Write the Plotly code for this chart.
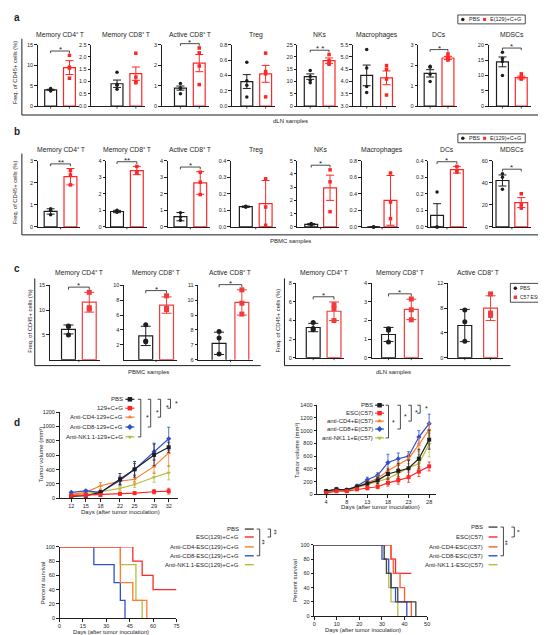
import plotly.graph_objects as go

W, H = 546, 635
FONT = "Liberation Sans, Arial, sans-serif"
BLACK = "#1e1e1e"
RED = "#ff2626"
RED_C = "#f03c3c"
ORANGE = "#ff7b2e"
ORANGE_R = "#ff5a32"
BLUE = "#2f4fd0"
OLIVE = "#b9bb3c"

# ---------------- data ----------------
cell_titles = ["Memory CD4⁺ T", "Memory CD8⁺ T", "Active CD8⁺ T",
               "Treg", "NKs", "Macrophages", "DCs", "MDSCs"]

# panel a: dLN samples, PBS vs E(129)+C+G
a_pbs_mean = [3.98, 0.91, 0.88, 0.32, 12.0, 4.25, 1.6, 14.4]
a_pbs_err = [0.12, 0.15, 0.10, 0.09, 1.1, 0.42, 0.18, 1.6]
a_pbs_pts = [[4.3, 4.0, 3.9, 3.7], [1.38, 0.89, 0.85, 0.69], [1.1, 0.9, 0.85, 0.6],
             [0.57, 0.33, 0.27, 0.12], [14.5, 12.0, 10.5, 9.5], [5.3, 4.55, 3.8, 3.55],
             [1.95, 1.9, 1.55, 1.2], [17.5, 15.5, 14.5, 10.0]]
a_trt_mean = [9.4, 1.32, 2.1, 0.42, 18.5, 4.15, 2.35, 9.3]
a_trt_err = [1.7, 0.27, 0.42, 0.11, 1.1, 0.28, 0.08, 0.45]
a_trt_pts = [[12.4, 9.5, 9.3, 6.8], [2.15, 1.18, 1.0, 0.95], [2.84, 2.6, 1.96, 1.05],
             [0.69, 0.45, 0.42, 0.12], [21.0, 18.5, 17.5, 17.0], [4.65, 4.5, 4.1, 3.45],
             [2.55, 2.4, 2.3, 2.25], [10.5, 9.5, 9.0, 8.8]]
a_yrange = [[0, 15], [0, 2.5], [0, 3], [0, 0.8], [0, 25], [3, 5.5], [0, 3], [0, 20]]
a_ticks = [[0, 5, 10, 15], [0, 0.5, 1, 1.5, 2, 2.5], [0, 1, 2, 3], [0, 0.2, 0.4, 0.6, 0.8],
           [0, 5, 10, 15, 20, 25], [3, 3.5, 4, 4.5, 5, 5.5], [0, 1, 2, 3], [0, 5, 10, 15, 20]]
a_fmt = ["d", ".1f", "d", ".1f", "d", ".1f", "d", "d"]
a_sig = ["*", "", "*", "", "* *", "", "*", "*"]

# panel b: PBMC samples
b_pbs_mean = [0.7, 0.93, 0.62, 0.122, 0.2, 0.0, 0.07, 42]
b_pbs_err = [0.12, 0.07, 0.25, 0.004, 0.05, 0.0, 0.07, 5]
b_pbs_pts = [[0.82, 0.75, 0.55], [1.0, 0.95, 0.88], [0.85, 0.6, 0.4], [0.125, 0.12, 0.12],
             [0.25, 0.2, 0.15], [0, 0, 0], [0.21, 0.0, 0.0], [48, 45, 34]]
b_trt_mean = [2.27, 3.4, 2.65, 0.14, 2.95, 0.32, 0.345, 22]
b_trt_err = [0.37, 0.25, 0.68, 0.14, 0.95, 0.3, 0.02, 4.5]
b_trt_pts = [[2.55, 2.35, 1.9], [3.65, 3.3, 3.25], [3.3, 2.7, 1.95], [0.29, 0.12, 0.01],
             [4.3, 3.4, 1.15], [0.65, 0.3, 0.1], [0.365, 0.34, 0.33], [30, 20, 17]]
b_yrange = [[0, 3], [0, 4], [0, 4], [0, 0.4], [0, 5], [0, 0.8], [0, 0.4], [0, 60]]
b_ticks = [[0, 1, 2, 3], [0, 1, 2, 3, 4], [0, 1, 2, 3, 4], [0, 0.1, 0.2, 0.3, 0.4],
           [0, 1, 2, 3, 4, 5], [0, 0.2, 0.4, 0.6, 0.8], [0, 0.1, 0.2, 0.3, 0.4], [0, 20, 40, 60]]
b_fmt = ["d", "d", "d", ".1f", "d", ".1f", ".1f", "d"]
b_sig = ["**", "**", "*", "", "*", "", "*", "*"]

# panel c: PBS vs C57 ESC (3 PBMC + 3 dLN)
c_titles = ["Memory CD4⁺ T", "Memory CD8⁺ T", "Active CD8⁺ T"] * 2
c_pbs_mean = [6.1, 3.2, 7.1, 3.25, 1.25, 5.2]
c_pbs_err = [0.9, 1.3, 0.75, 0.45, 0.38, 2.6]
c_pbs_pts = [[6.8, 6.7, 5.0], [4.7, 2.5, 2.4], [7.9, 7.46, 6.38], [3.8, 3.15, 3.0],
             [1.56, 1.48, 0.84], [7.7, 5.8, 2.67]]
c_trt_mean = [11.6, 7.35, 9.85, 5.0, 2.6, 8.0]
c_trt_err = [2.0, 1.1, 0.85, 1.0, 0.55, 2.0]
c_trt_pts = [[13.6, 10.5, 10.2], [8.6, 6.9, 6.75], [10.7, 9.8, 9.07], [5.7, 5.3, 4.0],
             [3.16, 2.58, 2.04], [10.3, 7.2, 6.83]]
c_yrange = [[0, 15], [0, 10], [6, 11], [0, 8], [0, 4], [0, 12]]
c_ticks = [[5, 10, 15], [2, 4, 6, 8, 10], [6, 7, 8, 9, 10, 11], [0, 2, 4, 6, 8],
           [0, 1, 2, 3, 4], [0, 4, 8, 12]]
c_sig = ["*", "*", "*", "*", "*", ""]

# panel d: tumor volume (129 model)
lt_days = [12, 15, 18, 22, 25, 29, 32]
lt_names = ["PBS", "129+C+G", "Anti-CD4-129+C+G", "Anti-CD8-129+C+G", "Anti-NK1.1-129+C+G"]
lt_pbs = [27, 37, 83, 266, 404, 605, 711]
lt_pbs_err = [10, 15, 30, 80, 110, 150, 70]
lt_esc = [37, 46, 46, 64, 73, 92, 100]
lt_esc_err = [15, 15, 15, 20, 20, 30, 40]
lt_cd4 = [55, 83, 175, 240, 266, 445, 633]
lt_cd4_err = [15, 20, 45, 40, 50, 100, 190]
lt_cd8 = [83, 105, 83, 248, 404, 650, 830]
lt_cd8_err = [15, 15, 20, 60, 80, 120, 160]
lt_nk = [46, 64, 92, 138, 193, 294, 358]
lt_nk_err = [10, 15, 20, 30, 40, 70, 100]

# panel d: tumor volume (C57 model)
rt_days = ["4", "6", "8", "11", "13", "16", "18", "21", "23", "26", "28"]
rt_ticks = ["4", "8", "13", "18", "23", "28"]
rt_names = ["PBS", "ESC(C57)", "anti-CD4+E(C57)", "anti-CD8+E(C57)", "anti-NK1.1+E(C57)"]
rt_pbs = [50, 80, 70, 120, 170, 220, 320, 370, 410, 560, 860]
rt_pbs_err = [20, 20, 20, 20, 40, 50, 80, 120, 130, 150, 150]
rt_esc = [20, 50, 50, 80, 100, 120, 180, 220, 270, 360, 440]
rt_esc_err = [20, 20, 20, 20, 30, 30, 50, 60, 80, 80, 70]
rt_cd4 = [40, 70, 60, 120, 180, 250, 370, 460, 560, 780, 1020]
rt_cd4_err = [20, 20, 20, 20, 30, 40, 60, 60, 80, 100, 100]
rt_cd8 = [50, 80, 70, 130, 230, 300, 500, 560, 600, 900, 1110]
rt_cd8_err = [20, 20, 20, 30, 40, 40, 130, 90, 70, 100, 150]
rt_nk = [40, 70, 60, 110, 150, 200, 250, 330, 420, 480, 790]
rt_nk_err = [20, 20, 20, 20, 30, 40, 60, 70, 120, 150, 200]

# panel d: survival (129 model)
ls_names = ["PBS", "ESC(129)+C+G", "Anti-CD4-ESC(129)+C+G", "Anti-CD8-ESC(129)+C+G", "Anti-NK1.1-ESC(129)+C+G"]
ls_esc_t = [0, 47, 53, 60, 75]
ls_esc_s = [100, 80, 60, 40, 40]
ls_cd4_t = [0, 39, 47, 56]
ls_cd4_s = [100, 50, 25, 0]
ls_cd8_t = [0, 22, 35, 39, 42]
ls_cd8_s = [100, 75, 50, 25, 0]
ls_nk_t = [0, 39, 49, 53]
ls_nk_s = [100, 75, 25, 0]

# panel d: survival (C57 model)
rs_names = ["PBS", "ESC(C57)", "Anti-CD4-ESC(C57)", "Anti-CD8-ESC(C57)", "Anti-NK1.1-ESC(C57)"]
rs_pbs_t = [0, 31, 32, 34, 37, 45]
rs_pbs_s = [100, 80, 60, 40, 20, 0]
rs_esc_t = [0, 34, 36, 43]
rs_esc_s = [100, 80, 60, 60]
rs_cd4_t = [0, 34, 35, 38, 40, 43]
rs_cd4_s = [100, 80, 60, 40, 20, 0]
rs_cd8_t = [0, 30, 33, 34, 36, 41]
rs_cd8_s = [100, 80, 60, 40, 20, 0]
rs_nk_t = [0, 31, 32, 33, 34, 37]
rs_nk_s = [100, 80, 60, 40, 20, 0]

# ---------------- helpers ----------------
layout = dict(width=W, height=H, margin=dict(l=0, r=0, t=0, b=0), paper_bgcolor="white",
              plot_bgcolor="rgba(0,0,0,0)", showlegend=False, barmode="overlay",
              font=dict(family=FONT, color=BLACK), shapes=[], annotations=[])
traces = []
n_ax = [0]


def ax_style():
    return dict(showline=True, linecolor=BLACK, linewidth=1, ticks="outside", ticklen=2.5,
                tickwidth=0.8, tickcolor=BLACK, showgrid=False, zeroline=False,
                tickfont=dict(size=5.5, family=FONT, color=BLACK), fixedrange=True)


def new_axes(x0, x1, ytop, ybot, xopt, yopt):
    n_ax[0] += 1
    k = n_ax[0]
    s = "" if k == 1 else str(k)
    xo = ax_style()
    xo.update(xopt)
    xo.update(domain=[x0 / W, x1 / W], anchor="y" + s)
    yo = ax_style()
    yo.update(yopt)
    yo.update(domain=[1 - ybot / H, 1 - ytop / H], anchor="x" + s)
    layout["xaxis" + s] = xo
    layout["yaxis" + s] = yo
    return "x" + s, "y" + s


def txt(x, y, s, size=6.0, xanchor="center", yanchor="middle", angle=0, color=BLACK, bold=False):
    f = dict(size=size, family=FONT, color=color)
    if bold:
        f["weight"] = "bold"
    layout["annotations"].append(dict(x=x / W, y=1 - y / H, xref="paper", yref="paper", text=s,
                                      showarrow=False, xanchor=xanchor, yanchor=yanchor,
                                      textangle=angle, borderpad=0, font=f))


def seg(x0, y0, x1, y1, color=BLACK, w=1.0):
    layout["shapes"].append(dict(type="line", xref="paper", yref="paper", x0=x0 / W, y0=1 - y0 / H,
                                 x1=x1 / W, y1=1 - y1 / H, line=dict(color=color, width=w)))


def rect(x0, y0, x1, y1, w=0.8):
    layout["shapes"].append(dict(type="rect", xref="paper", yref="paper", x0=x0 / W, y0=1 - y0 / H,
                                 x1=x1 / W, y1=1 - y1 / H, line=dict(color=BLACK, width=w)))


def bracket(x, y0, y1, arm=3, w=0.8):
    seg(x, y0, x, y1, w=w)
    seg(x - arm, y0, x, y0, w=w)
    seg(x - arm, y1, x, y1, w=w)


def bar_panel(title, pm, pe, pp, tm, te, tp, yr, tickvals, fmt, sig, spec, ytop, ybot,
              title_y, red, bw, xticks, msize=4, trt_symbol="square", cap=4):
    axp, c0, c1 = spec
    d = c1 - c0
    end = c1 + 0.5 * d
    xa, ya = new_axes(axp, end, ytop, ybot,
                      dict(range=[(axp - c0) / d, (end - c0) / d], ticks="", showticklabels=False),
                      dict(range=yr, tickvals=tickvals, tickformat=fmt))
    # small x tick marks under the bars
    for xt in xticks:
        xp = c0 + xt * d
        seg(xp, ybot, xp, ybot + 2.5, w=0.8)
    for x, m, e, pts, col, sym in [(0, pm, pe, pp, BLACK, "circle"), (1, tm, te, tp, red, trt_symbol)]:
        traces.append(go.Bar(x=[x], y=[m], width=bw / d, xaxis=xa, yaxis=ya,
                             marker=dict(color="rgba(0,0,0,0)", line=dict(color=col, width=1.2)),
                             error_y=dict(type="data", array=[e], color=col, thickness=1, width=cap)))
        traces.append(go.Scatter(x=[x] * len(pts), y=pts, mode="markers", cliponaxis=False,
                                 marker=dict(symbol=sym, size=msize, color=col), xaxis=xa, yaxis=ya))
    if sig:
        span = yr[1] - yr[0]
        h = max(pp + tp + [pm + pe, tm + te]) + 0.07 * span
        ypx = ybot - (h - yr[0]) / span * (ybot - ytop)
        drop = 0.035 * (ybot - ytop)
        seg(c0, ypx + drop, c0, ypx, w=0.8)
        seg(c0, ypx, c1, ypx, w=0.8)
        seg(c1, ypx, c1, ypx + drop, w=0.8)
        txt((c0 + c1) / 2, ypx + 4, sig, size=8, yanchor="bottom")
    txt((c0 + c1) / 2, title_y, title, size=6.8)


# ---------------- panel a ----------------
a_spec = [(28, 41, 60), (82, 108, 127), (153, 172, 191), (224, 239, 258),
          (290, 303, 322), (346, 360, 380), (412, 424, 442), (483, 497, 516)]
for i in range(8):
    bar_panel(cell_titles[i], a_pbs_mean[i], a_pbs_err[i], a_pbs_pts[i], a_trt_mean[i], a_trt_err[i],
              a_trt_pts[i], a_yrange[i], a_ticks[i], a_fmt[i], a_sig[i], a_spec[i], 34, 96, 24,
              RED, 12, [0, 1], msize=3.5)
txt(3, 7, "a", size=10, xanchor="left", bold=True)
seg(12, 28, 12, 105)
seg(12, 105, 537, 105)
txt(283, 111, "dLN samples", size=6)
txt(5, 62, "Freq. of CD45+ cells (%)", size=5.8, angle=-90)
rect(452, 4, 520, 13)
txt(462, 8.5, "PBS", size=5.5, xanchor="left")
txt(483, 8.5, "E(129)+C+G", size=5.5, xanchor="left")

# ---------------- panel b ----------------
b_spec = [(28, 41, 61), (97, 108, 128), (159, 172, 192), (223, 238, 258),
          (290, 304, 323), (355, 367, 384), (422, 431, 451), (487, 497, 516)]
for i in range(8):
    bar_panel(cell_titles[i], b_pbs_mean[i], b_pbs_err[i], b_pbs_pts[i], b_trt_mean[i], b_trt_err[i],
              b_trt_pts[i], b_yrange[i], b_ticks[i], b_fmt[i], b_sig[i], b_spec[i], 151, 218, 140,
              RED, 13, [0.5], msize=3.5)
txt(3, 122, "b", size=10, xanchor="left", bold=True)
seg(12, 144, 12, 226)
seg(12, 226, 537, 226)
txt(283, 232, "PBMC samples", size=6)
txt(5, 183, "Freq. of CD45+ cells (%)", size=5.8, angle=-90)
rect(452, 124, 520, 133)
txt(462, 128.5, "PBS", size=5.5, xanchor="left")
txt(483, 128.5, "E(129)+C+G", size=5.5, xanchor="left")

# ---------------- panel c ----------------
c_spec = [(40, 59, 80), (115, 137, 158), (190, 211, 234), (289, 306, 327), (365, 382, 405), (442, 459, 485)]
for i in range(6):
    top, bot = (277, 352) if i < 3 else (275, 350)
    bar_panel(c_titles[i], c_pbs_mean[i], c_pbs_err[i], c_pbs_pts[i], c_trt_mean[i], c_trt_err[i],
              c_trt_pts[i], c_yrange[i], c_ticks[i], "d", c_sig[i], c_spec[i], top, bot, 264,
              RED_C, 14, [0.5] if i < 3 else [0, 1], msize=5, cap=5)
txt(3, 260, "c", size=10, xanchor="left", bold=True)
seg(25, 270, 25, 358)
seg(25, 358, 253, 358)
seg(277, 270, 277, 358)
seg(277, 358, 505, 358)
txt(140, 364, "PBMC samples", size=6)
txt(387, 364, "dLN samples", size=6)
txt(20, 313, "Freq. of CD45+ cells (%)", size=5.8, angle=-90)
txt(271, 313, "Freq. of CD45+ cells (%)", size=5.8, angle=-90)
rect(505, 275, 543, 294)
txt(514, 280, "PBS", size=5, xanchor="left")
txt(514, 289, "C57 ESC", size=5, xanchor="left")

# ---------------- panel d: tumor volume ----------------
txt(3, 415, "d", size=10, xanchor="left", bold=True)

xa, ya = new_axes(50, 170, 405, 492,
                  dict(range=[9.6, 34], tickvals=lt_days),
                  dict(range=[0, 1200], tickvals=[0, 200, 400, 600, 800, 1000, 1200]))
lt_series = [(lt_pbs, lt_pbs_err, BLACK, "square"), (lt_esc, lt_esc_err, RED, "square"),
             (lt_cd4, lt_cd4_err, ORANGE, "triangle-up"), (lt_cd8, lt_cd8_err, BLUE, "diamond"),
             (lt_nk, lt_nk_err, OLIVE, "triangle-down")]
for vals, errs, col, sym in [lt_series[4], lt_series[2], lt_series[3], lt_series[0], lt_series[1]]:
    traces.append(go.Scatter(x=lt_days, y=vals, mode="lines+markers", xaxis=xa, yaxis=ya,
                             line=dict(color=col, width=1.2), marker=dict(symbol=sym, size=4, color=col),
                             error_y=dict(type="data", array=errs, color=col, thickness=0.8, width=1.5),
                             cliponaxis=False))
txt(31, 448, "Tumor volume (mm³)", size=6, angle=-90)
txt(112, 506, "Days (after tumor inoculation)", size=6)

xa2, ya2 = new_axes(310, 430, 398, 488,
                    dict(type="category", range=[-0.87, 10.67], tickvals=rt_ticks),
                    dict(range=[0, 1400], tickvals=[0, 200, 400, 600, 800, 1000, 1200, 1400]))
rt_series = [(rt_pbs, rt_pbs_err, BLACK, "square"), (rt_esc, rt_esc_err, RED, "square"),
             (rt_cd4, rt_cd4_err, ORANGE, "triangle-up"), (rt_cd8, rt_cd8_err, BLUE, "diamond"),
             (rt_nk, rt_nk_err, OLIVE, "triangle-down")]
for vals, errs, col, sym in [rt_series[3], rt_series[2], rt_series[4], rt_series[0], rt_series[1]]:
    traces.append(go.Scatter(x=rt_days, y=vals, mode="lines+markers", xaxis=xa2, yaxis=ya2,
                             line=dict(color=col, width=1.2), marker=dict(symbol=sym, size=4, color=col),
                             error_y=dict(type="data", array=errs, color=col, thickness=0.8, width=1.5),
                             cliponaxis=False))
txt(289, 443, "Tumor volume (mm³)", size=6, angle=-90)
txt(374, 501, "Days (after tumor inoculation)", size=6)

# ---------------- panel d: survival ----------------
xa3, ya3 = new_axes(50, 168, 541, 613,
                    dict(range=[0, 75], tickvals=[0, 15, 30, 45, 60, 75]),
                    dict(range=[0, 100], tickvals=[0, 20, 40, 60, 80, 100]))
for t, s, col in [(ls_cd8_t, ls_cd8_s, BLUE), (ls_nk_t, ls_nk_s, OLIVE), (ls_cd4_t, ls_cd4_s, ORANGE),
                  (ls_esc_t, ls_esc_s, RED)]:
    traces.append(go.Scatter(x=t, y=s, mode="lines", line=dict(color=col, width=1.3, shape="hv"),
                             xaxis=xa3, yaxis=ya3, cliponaxis=False))
txt(33, 577, "Percent survival", size=6, angle=-90)
txt(102, 626.5, "Days (after tumor inoculation)", size=5.8)

xa4, ya4 = new_axes(307, 421, 539, 611,
                    dict(range=[0, 50], tickvals=[0, 10, 20, 30, 40, 50]),
                    dict(range=[0, 100], tickvals=[0, 20, 40, 60, 80, 100]))
for t, s, col in [(rs_esc_t, rs_esc_s, RED), (rs_cd4_t, rs_cd4_s, ORANGE_R), (rs_nk_t, rs_nk_s, OLIVE),
                  (rs_cd8_t, rs_cd8_s, BLUE), (rs_pbs_t, rs_pbs_s, "#444444")]:
    traces.append(go.Scatter(x=t, y=s, mode="lines", line=dict(color=col, width=1.3, shape="hv"),
                             xaxis=xa4, yaxis=ya4, cliponaxis=False))
txt(287, 575, "Percent survival", size=6, angle=-90)
txt(356, 624.5, "Days (after tumor inoculation)", size=5.8)

# ---------------- overlay for legend symbols ----------------
xo, yo = new_axes(0, W, 0, H, dict(range=[0, W], visible=False), dict(range=[H, 0], visible=False))


def leg_marker(x, y, col, sym, size=4):
    traces.append(go.Scatter(x=[x], y=[y], mode="markers", marker=dict(symbol=sym, size=size, color=col),
                             xaxis=xo, yaxis=yo, cliponaxis=False))


def leg_line_marker(x, y, col, sym):
    seg(x - 4.5, y, x + 4.5, y, color=col, w=1.2)
    leg_marker(x, y, col, sym, 4.5)


leg_marker(457, 8.5, BLACK, "circle", 3.5)
leg_marker(479, 8.5, RED, "square", 3)
leg_marker(457, 128.5, BLACK, "circle", 3.5)
leg_marker(479, 128.5, RED, "square", 3)
leg_marker(510, 280, BLACK, "circle", 3.5)
leg_marker(510, 289, RED_C, "square", 3.5)

# tumor legend left
lt_leg_y = [392, 401, 410, 420, 430]
for name, (vals, errs, col, sym), yy in zip(lt_names, lt_series, lt_leg_y):
    txt(115, yy, name, size=6, xanchor="right")
    leg_line_marker(121, yy, col, sym)
bracket(162, 392, 401)
bracket(152, 392, 410)
bracket(142, 392, 420)
bracket(132, 392, 430)
txt(166, 396, "*", size=7, xanchor="left")
txt(156, 400, "*", size=7, xanchor="left")
txt(146, 405, "*", size=7, xanchor="left")
txt(136, 410, "*", size=7, xanchor="left")

# tumor legend right
rt_leg_y = [398, 406, 414, 422, 431]
for name, (vals, errs, col, sym), yy in zip(rt_names, rt_series, rt_leg_y):
    txt(367, yy, name, size=6, xanchor="right")
    leg_line_marker(373, yy, col, sym)
bracket(414, 398, 406)
bracket(405, 398, 414)
bracket(394, 398, 422)
bracket(382, 398, 431)
txt(418, 401, "*", size=7, xanchor="left")
txt(408, 405, "*", size=7, xanchor="left")
txt(397, 409, "*", size=7, xanchor="left")
txt(385, 415, "*", size=7, xanchor="left")

# survival legend left
ls_cols = ["#444444", RED, ORANGE, BLUE, OLIVE]
ls_leg_y = [523, 531, 541, 550, 559]
for name, col, yy in zip(ls_names, ls_cols, ls_leg_y):
    txt(232, yy, name, size=6, xanchor="right")
    seg(237, yy, 246, yy, color=col, w=1.4)
bracket(252, 523, 550)
bracket(263, 523, 531)
txt(257, 536, "**", size=6.5, angle=-90)
txt(268, 526, "**", size=6.5, angle=-90)

# survival legend right
rs_cols = ["#444444", RED, ORANGE_R, BLUE, OLIVE]
rs_leg_y = [521, 531, 541, 550, 559]
for name, col, yy in zip(rs_names, rs_cols, rs_leg_y):
    txt(478, yy, name, size=6, xanchor="right")
    seg(483, yy, 492, yy, color=col, w=1.4)
bracket(498, 521, 550)
bracket(509, 521, 531)
txt(503, 536, "**", size=6.5, angle=-90)
txt(514, 525, "*", size=6.5, angle=-90)

fig = go.Figure(data=traces)
fig.update_layout(**layout)
fig.write_html("out.html")
